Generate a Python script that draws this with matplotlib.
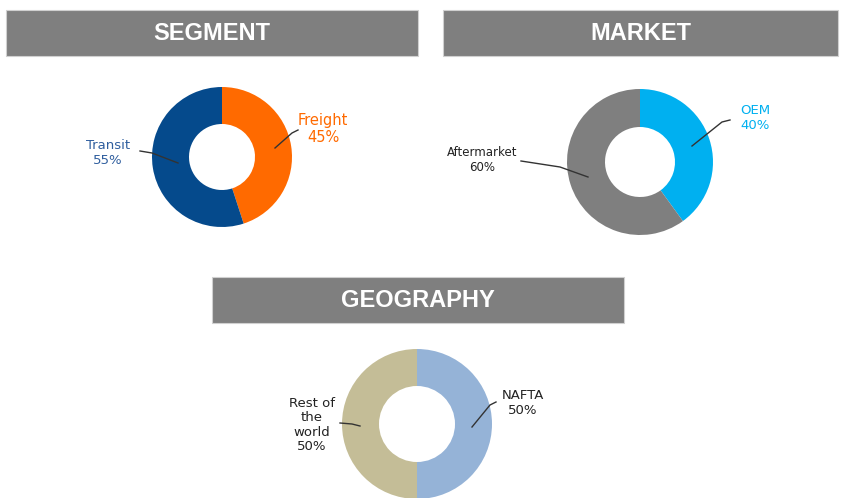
import matplotlib
matplotlib.use("Agg")
import matplotlib.pyplot as plt
from matplotlib.patches import Rectangle
from matplotlib import font_manager

W, H = 844, 498

titles = ["SEGMENT", "MARKET", "GEOGRAPHY"]
seg_labels = ["Freight", "Transit"]
seg_values = [45, 55]
mkt_labels = ["OEM", "Aftermarket"]
mkt_values = [40, 60]
geo_labels = ["NAFTA", "Rest of\nthe\nworld"]
geo_values = [50, 50]

seg_colors = ["#FF6A00", "#054A8C"]
mkt_colors = ["#00B0F0", "#7F7F7F"]
geo_colors = ["#95B3D7", "#C4BD97"]

names = {f.name for f in font_manager.fontManager.ttflist}
narrow = "Liberation Sans Narrow" if "Liberation Sans Narrow" in names else "Liberation Sans"

fig = plt.figure(figsize=(W / 100, H / 100), dpi=100)
ax = fig.add_axes([0, 0, 1, 1])


def Y(y):
    return H - y


def banner(x0, x1, y0, y1, text):
    ax.add_patch(Rectangle((x0, Y(y1)), x1 - x0, y1 - y0, facecolor="#7F7F7F",
                           edgecolor="#D0D0D0", lw=0.8, zorder=1))
    ax.text((x0 + x1) / 2, Y((y0 + y1) / 2 + 0.5), text, color="white", fontsize=17,
            fontweight="bold", family=narrow, ha="center", va="center", zorder=2)


def donut(cx, cy, r, rin, values, colors):
    ax.pie(values, colors=colors, startangle=90, counterclock=False,
           center=(cx, Y(cy)), radius=r, frame=True,
           wedgeprops=dict(width=r - rin, edgecolor="none"))


def label(x, y, text, color, size, lx, ly, ha="center"):
    ax.text(x, Y(y), text, color=color, fontsize=size, ha=ha, va="center",
            family="DejaVu Sans", linespacing=1.15, zorder=3)
    ax.plot(lx, [Y(v) for v in ly], color="#333333", lw=1.0, zorder=3)


banner(6, 418, 10, 56, titles[0])
banner(443, 838, 10, 56, titles[1])
banner(212, 624, 277, 323, titles[2])

donut(222, 157, 70, 33, seg_values, seg_colors)
donut(640, 162, 73, 35, mkt_values, mkt_colors)
donut(417, 424, 75, 38, geo_values, geo_colors)

label(323, 129, f"{seg_labels[0]}\n{seg_values[0]}%", "#FF6A00", 10.5,
      [275, 292, 298], [148, 133, 130])
label(108, 153, f"{seg_labels[1]}\n{seg_values[1]}%", "#2F5E9E", 9.5,
      [140, 152, 178], [151, 153, 163])
label(755, 118, f"{mkt_labels[0]}\n{mkt_values[0]}%", "#00B0F0", 9.5,
      [692, 722, 730], [146, 122, 120])
label(482, 160, f"{mkt_labels[1]}\n{mkt_values[1]}%", "#222222", 8.5,
      [521, 560, 588], [161, 167, 177])
label(523, 403, f"{geo_labels[0]}\n{geo_values[0]}%", "#222222", 9.5,
      [472, 490, 496], [427, 405, 402])
label(312, 425, f"{geo_labels[1]}\n{geo_values[1]}%", "#222222", 9.5,
      [340, 352, 360], [423, 424, 426])

ax.set_xlim(0, W)
ax.set_ylim(0, H)
ax.set_aspect("auto")
ax.axis("off")

fig.savefig("out.png", dpi=100, facecolor="white")
